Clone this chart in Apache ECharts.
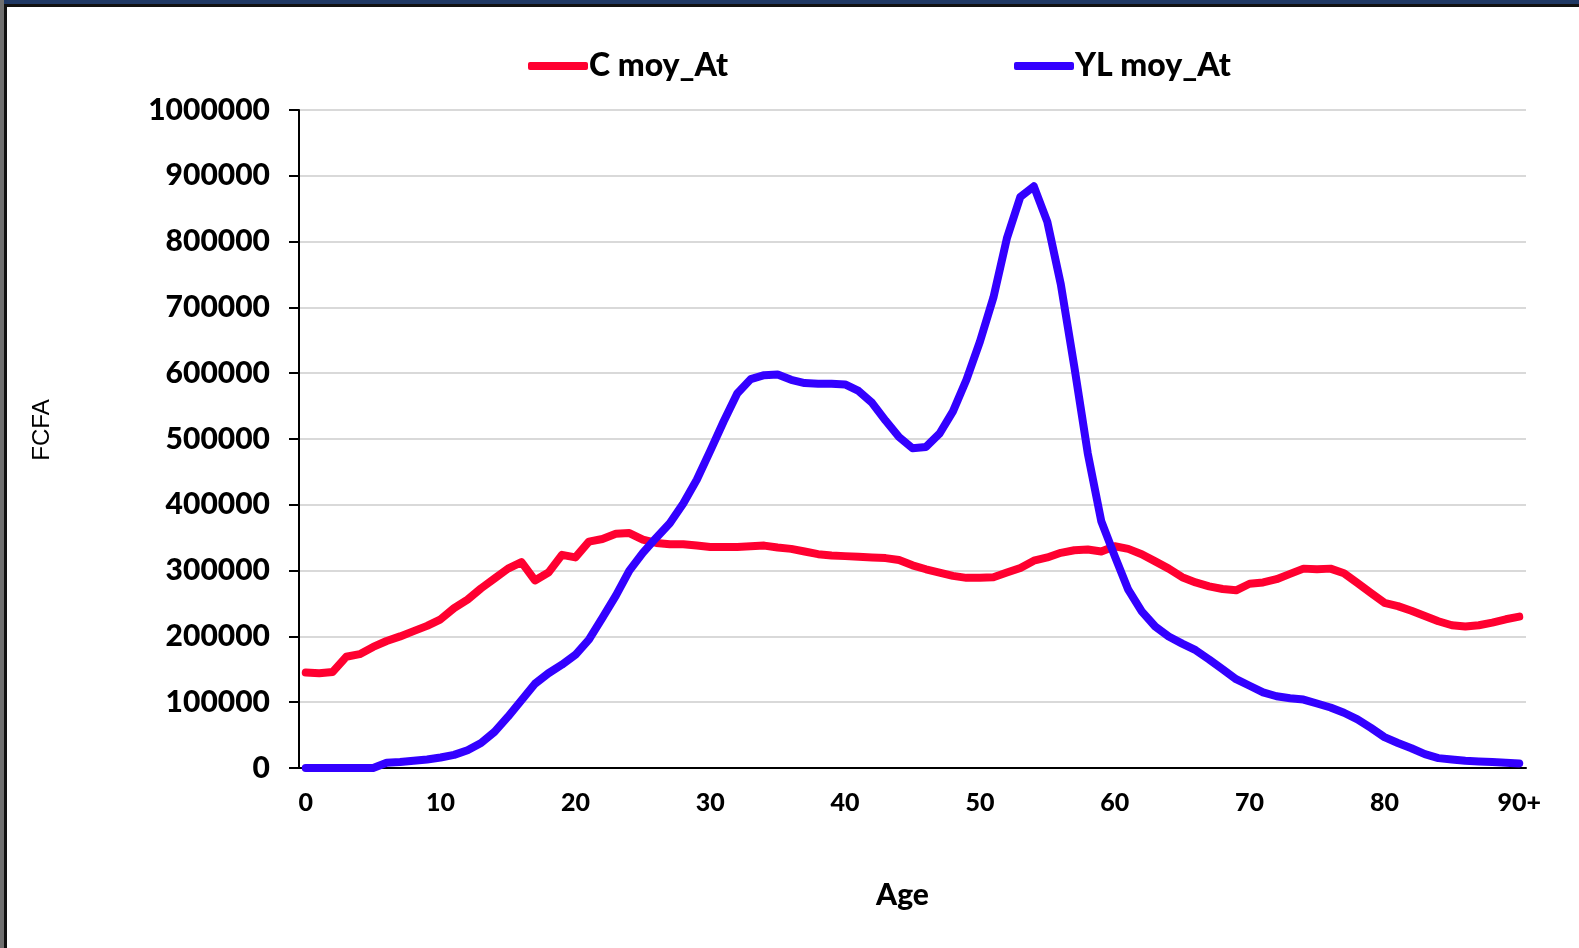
<!DOCTYPE html>
<html>
<head>
<meta charset="utf-8">
<script src="https://cdn.jsdelivr.net/npm/echarts@6/dist/echarts.min.js"></script>
<style>
  html, body { margin: 0; padding: 0; background: #fff; }
  #chart { width: 1579px; height: 948px; }
</style>
</head>
<body>
<div id="chart"></div>
<script>
// ages 0..89 then 90+
var ages = [];
for (var a = 0; a < 90; a++) { ages.push(String(a)); }
ages.push('90+');

var consoMoy = [
  145000, 144000, 146000, 169000, 173000, 184000, 193000, 200000, 208000, 216000,
  226000, 243000, 256000, 273000, 288000, 303000, 313000, 285000, 297000, 324000,
  320000, 344000, 348000, 356000, 357000, 347000, 342000, 340000, 340000, 338000,
  336000, 336000, 336000, 337000, 338000, 335000, 333000, 329000, 325000, 323000,
  322000, 321000, 320000, 319000, 316000, 308000, 302000, 297000, 292000, 289000,
  289000, 290000, 297000, 304000, 315000, 320000, 327000, 331000, 332000, 329000,
  337000, 333000, 325000, 314000, 303000, 290000, 282000, 276000, 272000, 270000,
  280000, 282000, 287000, 295000, 303000, 302000, 303000, 296000, 281000, 266000,
  251000, 246000, 239000, 231000, 223000, 217000, 215000, 217000, 221000, 226000,
  230000
];

var revenuMoy = [
  0, 0, 0, 0, 0, 0, 8000, 9000, 11000, 13000,
  16000, 20000, 27000, 38000, 55000, 78000, 103000, 128000, 144000, 157000,
  172000, 195000, 228000, 262000, 300000, 327000, 350000, 372000, 402000, 438000,
  482000, 527000, 569000, 591000, 597000, 598000, 590000, 585000, 584000, 584000,
  583000, 573000, 555000, 528000, 503000, 486000, 488000, 508000, 542000, 590000,
  648000, 715000, 805000, 868000, 884000, 830000, 735000, 610000, 478000, 375000,
  322000, 271000, 238000, 215000, 200000, 189000, 179000, 165000, 150000, 135000,
  125000, 115000, 109000, 106000, 104000, 98000, 92000, 84000, 74000, 61000,
  47000, 38000, 30000, 21000, 15000, 13000, 11000, 10000, 9000, 8000,
  7000
];

var seriesNames = ['C moy_At', 'YL moy_At'];
var seriesColors = ['#ff0030', '#3300ff'];

var boldFont = 'Lato';

var legendBase = function (name, left) {
    return {
        data: [name],
        left: left,
        top: 45,
        icon: 'roundRect',
        itemWidth: 60,
        itemHeight: 8,
        itemGap: 0,
        textStyle: {
            fontFamily: boldFont,
            fontWeight: 900,
            fontSize: 32,
            color: '#000',
            padding: [0, 0, 0, -4]
        }
    };
};

var makeLine = function (idx, values) {
    return {
        name: seriesNames[idx],
        type: 'line',
        data: values,
        showSymbol: false,
        symbol: 'none',
        lineStyle: {width: 8, color: seriesColors[idx], cap: 'round', join: 'round'},
        itemStyle: {color: seriesColors[idx]}
    };
};

var chart = echarts.init(document.getElementById('chart'), null, {renderer: 'canvas'});

chart.setOption({
    backgroundColor: '#ffffff',
    animation: false,
    color: seriesColors,
    graphic: [
        {type: 'rect', shape: {x: 0, y: 0, width: 1579, height: 4}, style: {fill: '#1f3864'}},
        {type: 'rect', shape: {x: 0, y: 4, width: 1579, height: 3}, style: {fill: '#111'}},
        {type: 'rect', shape: {x: 0, y: 0, width: 4, height: 948}, style: {fill: '#6f6f6f'}},
        {type: 'rect', shape: {x: 4, y: 4, width: 3, height: 944}, style: {fill: '#111'}}
    ],
    legend: [
        legendBase(seriesNames[0], 523),
        legendBase(seriesNames[1], 1009)
    ],
    grid: {
        left: 299,
        right: 53,
        top: 110,
        bottom: 180,
        containLabel: false
    },
    xAxis: {
        type: 'category',
        data: ages,
        boundaryGap: true,
        name: 'Age',
        nameLocation: 'middle',
        nameGap: 112,
        nameTextStyle: {fontFamily: boldFont, fontWeight: 900, fontSize: 30, color: '#000', padding: [0, 20, 0, 0]},
        axisLine: {lineStyle: {color: '#000', width: 2}},
        axisTick: {interval: 4, length: 9, lineStyle: {color: '#000', width: 2}},
        axisLabel: {
            interval: 9,
            margin: 22,
            fontFamily: boldFont,
            fontWeight: 900,
            fontSize: 25,
            color: '#000'
        },
        splitLine: {show: false}
    },
    yAxis: {
        type: 'value',
        min: 0,
        max: 1000000,
        interval: 100000,
        name: 'FCFA',
        nameLocation: 'middle',
        nameRotate: 90,
        nameGap: 245,
        nameTextStyle: {fontFamily: 'Liberation Sans', fontSize: 24, color: '#000', padding: [0, 0, 0, 18]},
        axisLine: {show: true, lineStyle: {color: '#000', width: 2}},
        axisTick: {show: true, length: 10, lineStyle: {color: '#000', width: 2}},
        axisLabel: {
            margin: 29,
            fontFamily: boldFont,
            fontWeight: 900,
            fontSize: 30,
            color: '#000',
            formatter: function (v) { return String(v); }
        },
        splitLine: {lineStyle: {color: '#d9d9d9', width: 2}}
    },
    series: [
        makeLine(0, consoMoy),
        makeLine(1, revenuMoy)
    ]
});
</script>
</body>
</html>
